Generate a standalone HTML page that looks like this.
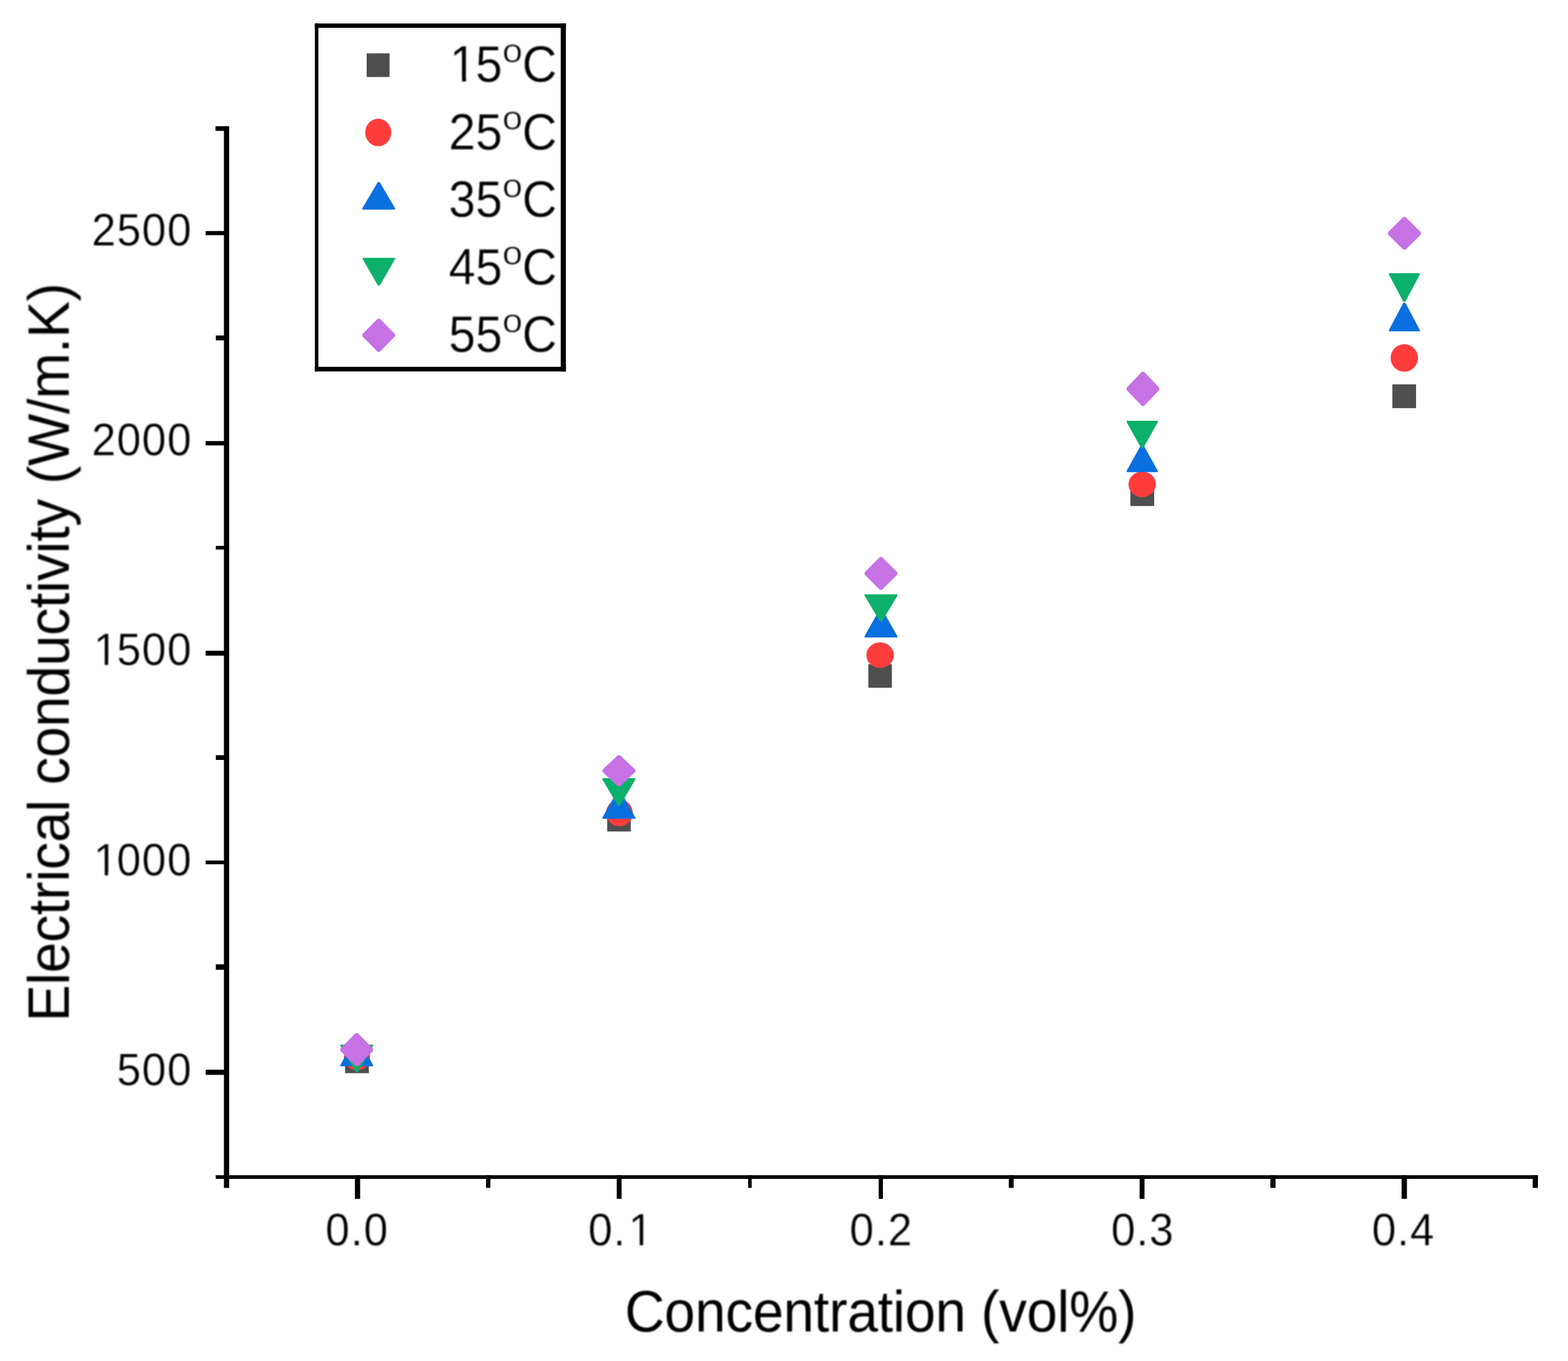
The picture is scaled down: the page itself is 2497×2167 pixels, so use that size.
<!DOCTYPE html>
<html lang="en"><head><meta charset="utf-8"><title>Electrical conductivity vs concentration</title>
<style>html,body{margin:0;padding:0;background:#fff}body{width:2497px;height:2167px;overflow:hidden}svg{display:block}text{font-family:"Liberation Sans", sans-serif;fill:#000}</style>
</head><body>
<svg width="2497" height="2167" viewBox="0 0 2497 2167">
<rect width="2497" height="2167" fill="#fff"/>
<defs><filter id="soft" x="0" y="0" width="2497" height="2167" filterUnits="userSpaceOnUse" color-interpolation-filters="sRGB"><feGaussianBlur stdDeviation="1.0"/></filter></defs>
<g id="axes">
<rect x="356.6" y="201" width="8.4" height="1690.4" fill="#000"/>
<rect x="343.5" y="1871.2" width="2105.6" height="5.8" fill="#000"/>
<rect x="327.5" y="1703.2" width="30.1" height="8.2" fill="#000"/>
<rect x="327.5" y="1370.1" width="30.1" height="6" fill="#000"/>
<rect x="327.5" y="1036.1" width="30.1" height="7.8" fill="#000"/>
<rect x="327.5" y="702.3" width="30.1" height="6.9" fill="#000"/>
<rect x="327.5" y="367.85" width="30.1" height="6.6" fill="#000"/>
<rect x="343.7" y="1535.4" width="13.9" height="8.7" fill="#000"/>
<rect x="343.7" y="1202.4" width="13.9" height="7.6" fill="#000"/>
<rect x="343.7" y="869.2" width="13.9" height="5.8" fill="#000"/>
<rect x="343.7" y="534.2" width="13.9" height="7.8" fill="#000"/>
<rect x="343.2" y="201" width="14.4" height="7.4" fill="#000"/>
<rect x="565.2" y="1871.2" width="8.3" height="37.6" fill="#000"/>
<rect x="982.1" y="1871.2" width="7.7" height="37.6" fill="#000"/>
<rect x="1399.3" y="1871.2" width="6.7" height="37.6" fill="#000"/>
<rect x="1814.8" y="1871.2" width="7.8" height="37.6" fill="#000"/>
<rect x="2232" y="1871.2" width="8.5" height="37.6" fill="#000"/>
<rect x="774" y="1871.2" width="6.9" height="20.2" fill="#000"/>
<rect x="1191.4" y="1871.2" width="5.6" height="20.2" fill="#000"/>
<rect x="1606.5" y="1871.2" width="7.7" height="20.2" fill="#000"/>
<rect x="2023.1" y="1871.2" width="8.2" height="20.2" fill="#000"/>
<rect x="2440.7" y="1871.2" width="8.4" height="20.2" fill="#000"/>
</g>
<g id="data">
<rect x="549.6" y="1671.1" width="37.7" height="37.6" fill="#4f4f4f"/>
<rect x="967" y="1286.3" width="37.5" height="37.6" fill="#4f4f4f"/>
<rect x="1382.8" y="1057.5" width="37.5" height="37.5" fill="#4f4f4f"/>
<rect x="1800.1" y="768.2" width="37.9" height="37.5" fill="#4f4f4f"/>
<rect x="2217.3" y="612" width="37.7" height="37.9" fill="#4f4f4f"/>
<ellipse cx="568.5" cy="1683.2" rx="20.9" ry="21.2" fill="#ff3c3c"/>
<ellipse cx="986.45" cy="1294.3" rx="21.35" ry="21.3" fill="#ff3c3c"/>
<ellipse cx="1401.55" cy="1043.1" rx="21.85" ry="20.4" fill="#ff3c3c"/>
<ellipse cx="1818.9" cy="771.2" rx="21.8" ry="20.4" fill="#ff3c3c"/>
<ellipse cx="2236.3" cy="569.95" rx="21.8" ry="21.85" fill="#ff3c3c"/>
<polygon points="566.45,1652 569.65,1652 594,1695.5 594,1697.7 542.1,1697.7 542.1,1695.5" fill="#0a6fdf"/>
<polygon points="983.95,1258 987.15,1258 1011.7,1301.6 1011.7,1303.8 959.4,1303.8 959.4,1301.6" fill="#0a6fdf"/>
<polygon points="1401.3,969.5 1404.5,969.5 1429,1012.8 1429,1015 1376.8,1015 1376.8,1012.8" fill="#0a6fdf"/>
<polygon points="1817.35,708 1820.55,708 1843.7,749.6 1843.7,751.8 1794.2,751.8 1794.2,749.6" fill="#0a6fdf"/>
<polygon points="2234.8,482 2238,482 2261,525.4 2261,527.6 2211.8,527.6 2211.8,525.4" fill="#0a6fdf"/>
<polygon points="542.1,1663.2 594,1663.2 594,1665.4 569.65,1707 566.45,1707 542.1,1665.4" fill="#0bb06a"/>
<polygon points="959.4,1239 1011.7,1239 1011.7,1241.2 987.15,1283 983.95,1283 959.4,1241.2" fill="#0bb06a"/>
<polygon points="1376.8,946.3 1429,946.3 1429,948.5 1404.5,989.5 1401.3,989.5 1376.8,948.5" fill="#0bb06a"/>
<polygon points="1794.2,670.1 1843.7,670.1 1843.7,672.3 1820.55,713.5 1817.35,713.5 1794.2,672.3" fill="#0bb06a"/>
<polygon points="2211.8,434.9 2261,434.9 2261,437.1 2238,480.5 2234.8,480.5 2211.8,437.1" fill="#0bb06a"/>
<polygon points="566.25,1645.1 569.85,1645.1 594,1669.6 594,1673.2 569.85,1697.7 566.25,1697.7 542.1,1673.2 542.1,1669.6" fill="#c672e5"/>
<polygon points="983.75,1202.6 987.35,1202.6 1011.7,1225.45 1011.7,1229.05 987.35,1251.9 983.75,1251.9 959.4,1229.05 959.4,1225.45" fill="#c672e5"/>
<polygon points="1401.1,887 1404.7,887 1429,911.2 1429,914.8 1404.7,939 1401.1,939 1376.8,914.8 1376.8,911.2" fill="#c672e5"/>
<polygon points="1818.3,592 1821.9,592 1846,617.35 1846,620.95 1821.9,646.3 1818.3,646.3 1794.2,620.95 1794.2,617.35" fill="#c672e5"/>
<polygon points="2234.7,345.6 2238.3,345.6 2262.6,369.8 2262.6,373.4 2238.3,397.6 2234.7,397.6 2210.4,373.4 2210.4,369.8" fill="#c672e5"/>
</g>
<g id="legend">
<rect x="501.5" y="37.4" width="399.7" height="7" fill="#000"/>
<rect x="501.5" y="584" width="399.7" height="7.4" fill="#000"/>
<rect x="501.5" y="37.4" width="5.5" height="554" fill="#000"/>
<rect x="892.9" y="37.4" width="8.3" height="554" fill="#000"/>
<rect x="583.9" y="85" width="36.5" height="37.6" fill="#4f4f4f"/>
<ellipse cx="602.3" cy="210.95" rx="20.7" ry="21.85" fill="#ff3c3c"/>
<polygon points="601.5,290.1 604.7,290.1 629.1,331.6 629.1,333.8 577.1,333.8 577.1,331.6" fill="#0a6fdf"/>
<polygon points="577.6,410.4 629.1,410.4 629.1,412.6 604.95,454.6 601.75,454.6 577.6,412.6" fill="#0bb06a"/>
<polygon points="601.3,507.6 604.9,507.6 629.1,531.95 629.1,535.55 604.9,559.9 601.3,559.9 577.1,535.55 577.1,531.95" fill="#c672e5"/>
</g>
<g id="labels" filter="url(#soft)" stroke="#fff" stroke-width="0.45" stroke-linejoin="round">
<g id="ticklabels" font-size="72">
<text transform="translate(304.6,1727.8) scale(0.96,1)" x="-123.539 -81.793 -40.046">500</text>
<text transform="translate(304.6,1393.55) scale(0.96,1)" x="-161.886 -123.539 -81.793 -40.046">1000</text>
<text transform="translate(304.6,1059.3) scale(0.96,1)" x="-161.886 -123.539 -81.793 -40.046">1500</text>
<text transform="translate(304.6,725.05) scale(0.96,1)" x="-165.286 -123.539 -81.793 -40.046">2000</text>
<text transform="translate(304.6,390.8) scale(0.96,1)" x="-165.286 -123.539 -81.793 -40.046">2500</text>
<text transform="translate(568,1983.4) scale(0.96,1)" x="-51.747 -10.001 11.701">0.0</text>
<text transform="translate(986.425,1983.4) scale(0.96,1)" x="-51.747 -10.001 15.101">0.1</text>
<text transform="translate(1402.75,1983.4) scale(0.96,1)" x="-51.747 -10.001 11.701">0.2</text>
<text transform="translate(1819.075,1983.4) scale(0.96,1)" x="-51.747 -10.001 11.701">0.3</text>
<text transform="translate(2234.3,1983.4) scale(0.96,1)" x="-51.747 -10.001 11.701">0.4</text>
</g>
<g id="titles" font-size="88" stroke="none">
<text transform="translate(1402.4,2119.8) scale(1,1.05)" text-anchor="middle" textLength="815" lengthAdjust="spacing">Concentration (vol%)</text>
<text transform="translate(109.6,1038.6) rotate(-90) scale(1,1.05)" text-anchor="middle" textLength="1176" lengthAdjust="spacing">Electrical conductivity (W/m.K)</text>
</g>
<text transform="translate(0,130.4) scale(0.96,1.015)" font-size="80"><tspan x="745.741 788.837">15</tspan><tspan x="850" dy="-31" text-anchor="middle" font-size="53" stroke-width="0.9" textLength="33.4" lengthAdjust="spacingAndGlyphs">o</tspan><tspan x="895.104" dy="31" text-anchor="middle">C</tspan></text>
<text transform="translate(0,237.7) scale(0.96,1.015)" font-size="80"><tspan x="744.341 788.837">25</tspan><tspan x="850" dy="-31" text-anchor="middle" font-size="53" stroke-width="0.9" textLength="33.4" lengthAdjust="spacingAndGlyphs">o</tspan><tspan x="895.104" dy="31" text-anchor="middle">C</tspan></text>
<text transform="translate(0,345.3) scale(0.96,1.015)" font-size="80"><tspan x="744.341 788.837">35</tspan><tspan x="850" dy="-31" text-anchor="middle" font-size="53" stroke-width="0.9" textLength="33.4" lengthAdjust="spacingAndGlyphs">o</tspan><tspan x="895.104" dy="31" text-anchor="middle">C</tspan></text>
<text transform="translate(0,452.8) scale(0.96,1.015)" font-size="80"><tspan x="744.341 788.837">45</tspan><tspan x="850" dy="-31" text-anchor="middle" font-size="53" stroke-width="0.9" textLength="33.4" lengthAdjust="spacingAndGlyphs">o</tspan><tspan x="895.104" dy="31" text-anchor="middle">C</tspan></text>
<text transform="translate(0,560.4) scale(0.96,1.015)" font-size="80"><tspan x="744.341 788.837">55</tspan><tspan x="850" dy="-31" text-anchor="middle" font-size="53" stroke-width="0.9" textLength="33.4" lengthAdjust="spacingAndGlyphs">o</tspan><tspan x="895.104" dy="31" text-anchor="middle">C</tspan></text>
<g id="glyphtrim" fill="#fff" stroke="none">
<rect x="720" y="122.8" width="15.8" height="9.2"/>
<rect x="742.2" y="122.8" width="14.8" height="9.2"/>
<rect x="1005" y="1976.8" width="13.8" height="8.2"/>
<rect x="1024.2" y="1976.8" width="13.8" height="8.2"/>
<rect x="153" y="1052.8" width="13.8" height="8.2"/>
<rect x="172.2" y="1052.8" width="13.8" height="8.2"/>
<rect x="153" y="1387.8" width="13.8" height="8.2"/>
<rect x="172.2" y="1387.8" width="13.8" height="8.2"/>
</g>
</g>
</svg></body></html>
